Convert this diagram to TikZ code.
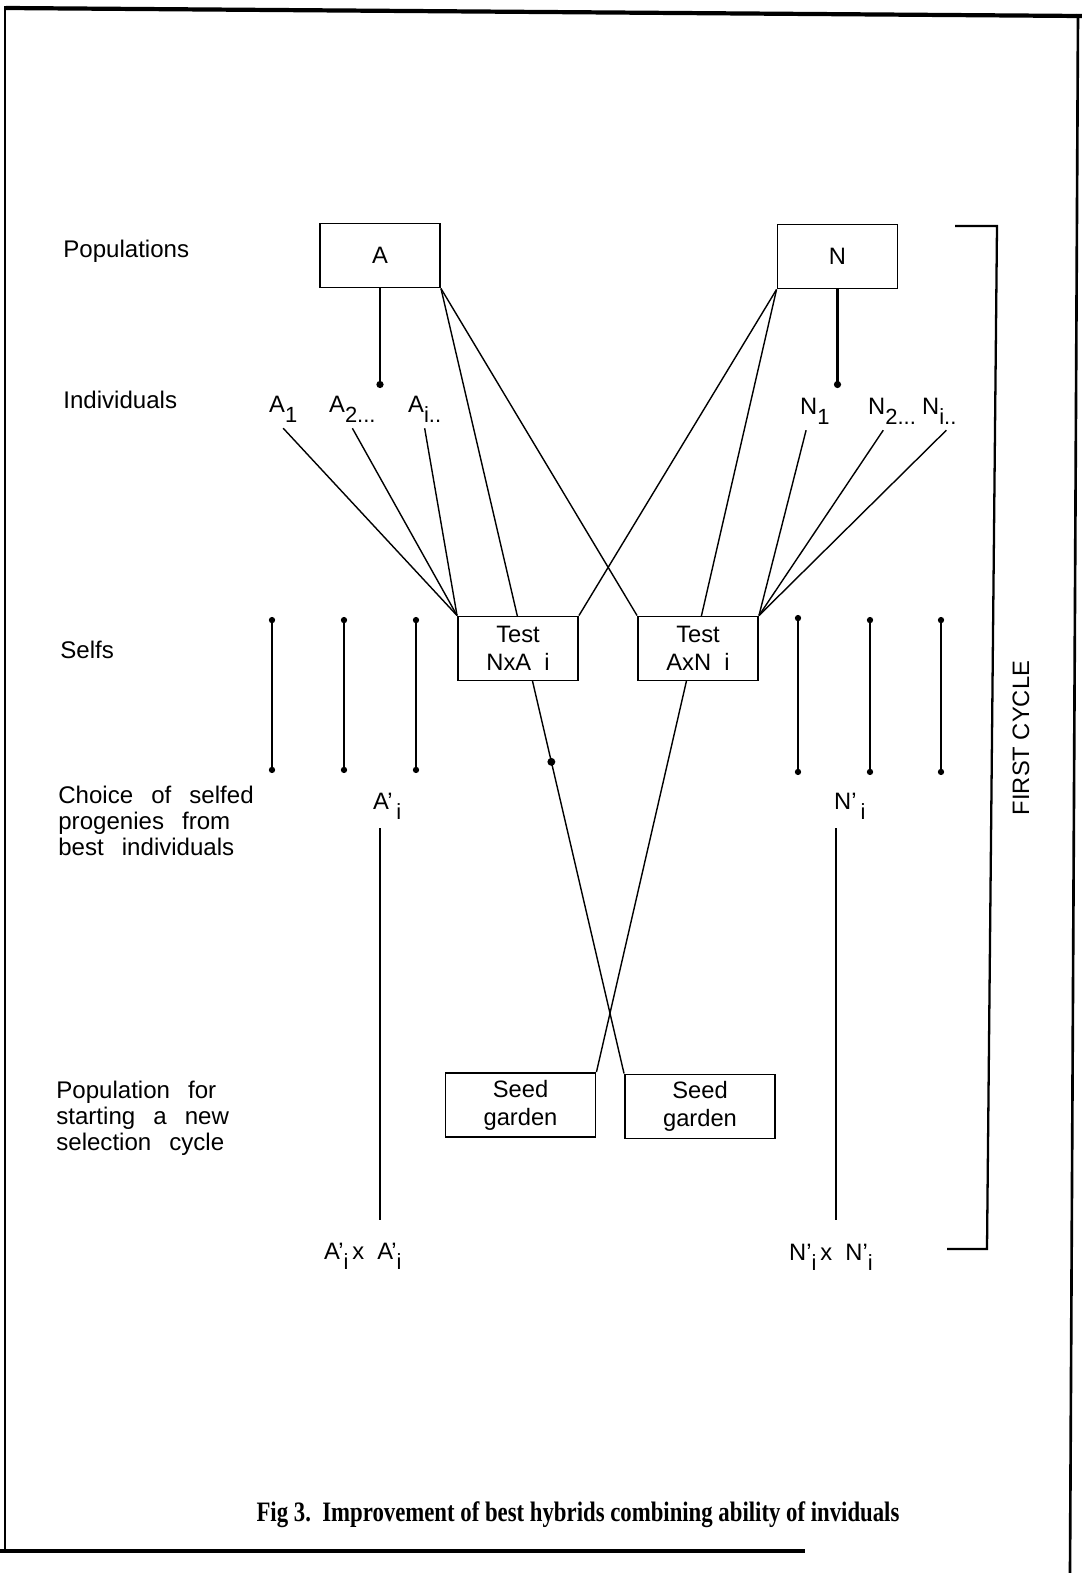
\documentclass[tikz,border=0pt]{standalone}
\usepackage{fontspec}
\setmainfont{Liberation Sans}
\newfontfamily\capfont{Liberation Serif}
\usetikzlibrary{arrows.meta}
\newcommand{\subidx}[1]{\raisebox{-0.8ex}{\fontsize{12.5}{14}\selectfont#1}}
\newcommand{\widewords}{\spaceskip 0.75em plus 0.1em\relax}

\begin{document}
\begin{tikzpicture}[x=0.02cm,y=-0.02cm,
  every node/.style={font=\fontsize{13.5}{16}\selectfont},
  box/.style={draw,line width=1.1pt,fill=white,minimum width=2.4cm,minimum height=1.28cm,align=center,inner sep=2pt},
  seedbox/.style={box,minimum width=3cm},
  rowlabel/.style={anchor=west,align=left,inner sep=0pt,font=\fontsize{13.7}{14.7}\selectfont\widewords},
  link/.style={line width=0.8pt},
  stem/.style={line width=1.3pt,-{Circle[length=4pt]}},
  selfline/.style={line width=1.2pt,{Circle[length=3.5pt]}-{Circle[length=3.5pt]}},
  dotmark/.style={circle,fill,inner sep=0pt,minimum size=4.5pt}]
         \useasboundingbox (0,0) rectangle (1082,1573);

         % frame
         \draw[line width=2.4pt] (6,8) -- (1082,16);
         \draw[line width=1.2pt] (5,6) -- (5,1552);
         \draw[line width=1.5pt] (1078,14) -- (1070,1573);
         \draw[line width=2pt] (0,1551) -- (805,1551);

         % row labels
         \node[rowlabel](lPop) at (63,251) {Populations};
         \node[rowlabel](lInd) at (63,400) {Individuals};
         \node[rowlabel](lSelf) at (60,650) {Selfs};
         \node[rowlabel](lChoice) at (58,821) {Choice of selfed\\progenies from\\best individuals};
         \node[rowlabel](lStart) at (56,1118) {Population for\\starting a new\\selection cycle};

         % populations and seed gardens
         \node[box](popA) at (380,255.5) {A};
         \node[box](popN) at (837.5,256.5) {N};
         \node[seedbox](seedL) at (520.5,1105) {Seed\\garden};
         \node[seedbox](seedR) at (700,1106.5) {Seed\\garden};

         % crossing lines, run behind the test boxes
         \draw[link](popA.south east) -- node[pos=0.603,dotmark](xDot){} (seedR.north west);
         \draw[link](popN.south west) -- (seedL.north east);

         \node[box](testNA) at (518,648.5) {Test\\NxA~~i};
         \node[box](testAN) at (698,648.5) {Test\\AxN~~i};

         % individuals
         \node[anchor=base west](a1) at (263,412) {A\subidx{1}};
         \node[anchor=base west](a2) at (323,412) {A\subidx{2...}};
         \node[anchor=base west](ai) at (402,412) {A\subidx{i..}};
         \node[anchor=base west](n1) at (794,414) {N\subidx{1}};
         \node[anchor=base west](n2) at (862,414) {N\subidx{2...}};
         \node[anchor=base west](ni) at (916,414) {N\subidx{i..}};

         \coordinate (aDot) at (380,388);
         \coordinate (nDot) at (837.5,388);
         \draw[stem](popA.south) -- (aDot);
         \draw[stem](popN.south) -- (nDot);

         \draw[link](a1.south) -- (testNA.north west);
         \draw[link](a2.south) -- (testNA.north west);
         \draw[link](ai.south) -- (testNA.north west);
         \draw[link](popA.south east) -- (testAN.north west);
         \draw[link](popN.south west) -- (testNA.north east);
         \draw[link]([xshift=-5pt]n1.south) -- (testAN.north east);
         \draw[link]([xshift=-5pt]n2.south) -- (testAN.north east);
         \draw[link]([xshift=4pt]ni.south) -- (testAN.north east);

         % selfs
         \coordinate (sa1) at (272,617); \coordinate (sa1e) at (272,773);
         \coordinate (sa2) at (344,617); \coordinate (sa2e) at (344,773);
         \coordinate (sa3) at (416,617); \coordinate (sa3e) at (416,773);
         \coordinate (sn1) at (798,615); \coordinate (sn1e) at (798,775);
         \coordinate (sn2) at (870,617); \coordinate (sn2e) at (870,775);
         \coordinate (sn3) at (941,617); \coordinate (sn3e) at (941,775);
         \draw[selfline](sa1) -- (sa1e);
         \draw[selfline](sa2) -- (sa2e);
         \draw[selfline](sa3) -- (sa3e);
         \draw[selfline](sn1) -- (sn1e);
         \draw[selfline](sn2) -- (sn2e);
         \draw[selfline](sn3) -- (sn3e);

         % chosen progenies and their crosses
         \node[anchor=base west](api) at (367,809) {A'\,\subidx{i}};
         \node[anchor=base west](npi) at (828,809) {N'\,\subidx{i}};
         \node[anchor=base west](apx) at (318,1259) {A'\subidx{i}\,x~~A'\subidx{i}};
         \node[anchor=base west](npx) at (783,1260) {N'\subidx{i}\,x~~N'\subidx{i}};
         \coordinate (aTop) at (380,828);
         \coordinate (aBot) at (380,1220);
         \coordinate (nTop) at (836,828);
         \coordinate (nBot) at (836,1220);
         \draw[line width=1.2pt](aTop) -- (aBot);
         \draw[line width=1.2pt](nTop) -- (nBot);

         % cycle bracket
         \draw[line width=1.3pt] (955,226) -- (997,226) -- (987,1249) -- (947,1249);
         \node[rotate=90](cycle) at (1021,738) {FIRST CYCLE};

         \node[font=\capfont\bfseries\fontsize{16}{18}\selectfont,xscale=0.81](caption) at (578,1515) {Fig 3.\ \ Improvement of best hybrids combining ability of inviduals};
\end{tikzpicture}
\end{document}
